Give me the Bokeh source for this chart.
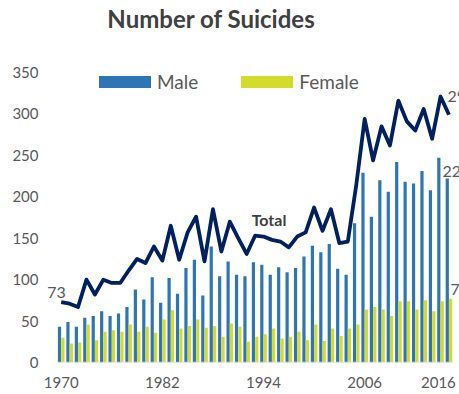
from bokeh.plotting import figure
from bokeh.models import (ColumnDataSource, Label, Legend, LegendItem,
                          FixedTicker, Range1d)
from bokeh.transform import dodge
from bokeh.embed import file_html
from bokeh.resources import INLINE

# ---- data ----
years = list(range(1970, 2017))
male = [43, 49, 43, 54, 56, 62, 56, 59, 67, 88,
        76, 103, 72, 102, 83, 114, 124, 81, 140, 104,
        122, 106, 104, 121, 118, 106, 115, 109, 114, 128,
        141, 133, 143, 113, 106, 168, 229, 176, 220, 206,
        242, 218, 216, 231, 208, 247, 222]
female = [30, 23, 24, 46, 27, 37, 39, 37, 46, 37,
          43, 36, 52, 63, 41, 44, 52, 42, 44, 31,
          47, 43, 25, 31, 34, 41, 29, 31, 37, 27,
          46, 26, 41, 32, 41, 46, 64, 67, 64, 56,
          74, 74, 64, 75, 62, 74, 77]
total = [73, 71, 67, 100, 82, 100, 96, 96, 111, 125,
         120, 140, 123, 165, 124, 157, 176, 122, 185, 134,
         170, 150, 131, 153, 152, 148, 146, 139, 152, 157,
         187, 159, 185, 144, 146, 214, 294, 244, 285, 262,
         316, 291, 280, 306, 270, 321, 299]
x_tick_years = [1970, 1982, 1994, 2006, 2016]
y_ticks = [0, 50, 100, 150, 200, 250, 300, 350]
title_text = "Number of Suicides"
series_names = ["Male", "Female", "Total"]

BLUE = "#2E75B6"
YELLOW = "#D3DC2B"
NAVY = "#002060"
GREY = "#595959"
DARK = "#404040"
FONT = "Lato"

src = ColumnDataSource(dict(year=years, male=male, female=female, total=total))

# frame covers the top and right of the canvas so title/legend/end labels
# are drawn inside it
x_start = years[0] - 1.98
x_end = years[-1] + 1.25
y_end = 436.9
p = figure(width=459, height=394,
           x_range=Range1d(x_start, x_end), y_range=Range1d(0, y_end),
           output_backend="svg", toolbar_location=None,
           min_border_left=44, min_border_right=0,
           min_border_top=0, min_border_bottom=32)
p.outline_line_color = None
p.xgrid.grid_line_color = None
p.ygrid.grid_line_color = None

r_m = p.vbar(x=dodge("year", -0.2), top="male", width=0.38, source=src,
             fill_color=BLUE, line_color=None)
r_f = p.vbar(x=dodge("year", 0.2), top="female", width=0.38, source=src,
             fill_color=YELLOW, line_color=None)
# category axis base line
p.segment(x0=years[0] - 0.5, x1=years[-1] + 0.5, y0=0, y1=0,
          line_color="#D9D9D9", line_width=1.5)
p.line(x="year", y="total", source=src, line_color=NAVY, line_width=3.8,
       line_join="round")

# title
p.add_layout(Label(x=x_start, y=y_end, text=title_text,
                   x_offset=167, y_offset=-18, text_align="center",
                   text_baseline="alphabetic", text_font=FONT,
                   text_font_size="24px", text_font_style="bold",
                   text_color=DARK))

# axes
last_pos = x_tick_years[-1] - 1.25  # last label pulled in so it fits
p.xaxis.ticker = FixedTicker(ticks=x_tick_years[:-1] + [last_pos])
p.xaxis.major_label_overrides = {last_pos: str(x_tick_years[-1])}
p.xaxis.axis_line_color = None
p.xaxis.major_tick_line_color = None
p.xaxis.minor_tick_line_color = None
p.xaxis.major_tick_out = 0
p.xaxis.major_tick_in = 0
p.xaxis.major_label_text_font = FONT
p.xaxis.major_label_text_font_size = "15px"
p.xaxis.major_label_text_color = GREY
p.xaxis.major_label_standoff = 14

p.yaxis.ticker = FixedTicker(ticks=y_ticks)
p.yaxis.axis_line_color = None
p.yaxis.major_tick_line_color = None
p.yaxis.minor_tick_line_color = None
p.yaxis.major_tick_out = 0
p.yaxis.major_tick_in = 0
p.yaxis.major_label_text_font = FONT
p.yaxis.major_label_text_font_size = "15px"
p.yaxis.major_label_text_color = GREY
p.yaxis.major_label_standoff = 6

# legend
legend = Legend(items=[LegendItem(label=series_names[0], renderers=[r_m]),
                       LegendItem(label=series_names[1], renderers=[r_f])],
                orientation="horizontal", location=(48, 269),
                glyph_width=65, glyph_height=15, label_height=15,
                label_standoff=0, spacing=36, padding=0, margin=0,
                border_line_color=None, background_fill_alpha=0,
                label_text_font=FONT, label_text_font_size="19px",
                label_text_color=GREY)
p.add_layout(legend)

# data labels
lab = dict(text_font=FONT, text_font_size="16px", text_color=GREY,
           text_baseline="alphabetic")
p.add_layout(Label(x=years[0], y=total[0], text=str(total[0]),
                   x_offset=-4.7, y_offset=9.5, text_align="center", **lab))
p.add_layout(Label(x=years[-1], y=total[-1], text=str(total[-1]),
                   x_offset=-1.5, y_offset=18, text_align="left", **lab))
p.add_layout(Label(x=years[-1], y=male[-1], text=str(male[-1]),
                   x_offset=-6.5, y_offset=7, text_align="left", **lab))
p.add_layout(Label(x=years[-1], y=female[-1], text=str(female[-1]),
                   x_offset=1.5, y_offset=9, text_align="left", **lab))
p.add_layout(Label(x=years[24], y=total[24], text=series_names[2],
                   x_offset=5.5, y_offset=17, text_align="center",
                   text_baseline="alphabetic", text_font=FONT,
                   text_font_size="16px", text_font_style="bold",
                   text_color=DARK))

open("out.html", "w").write(file_html(p, INLINE))
